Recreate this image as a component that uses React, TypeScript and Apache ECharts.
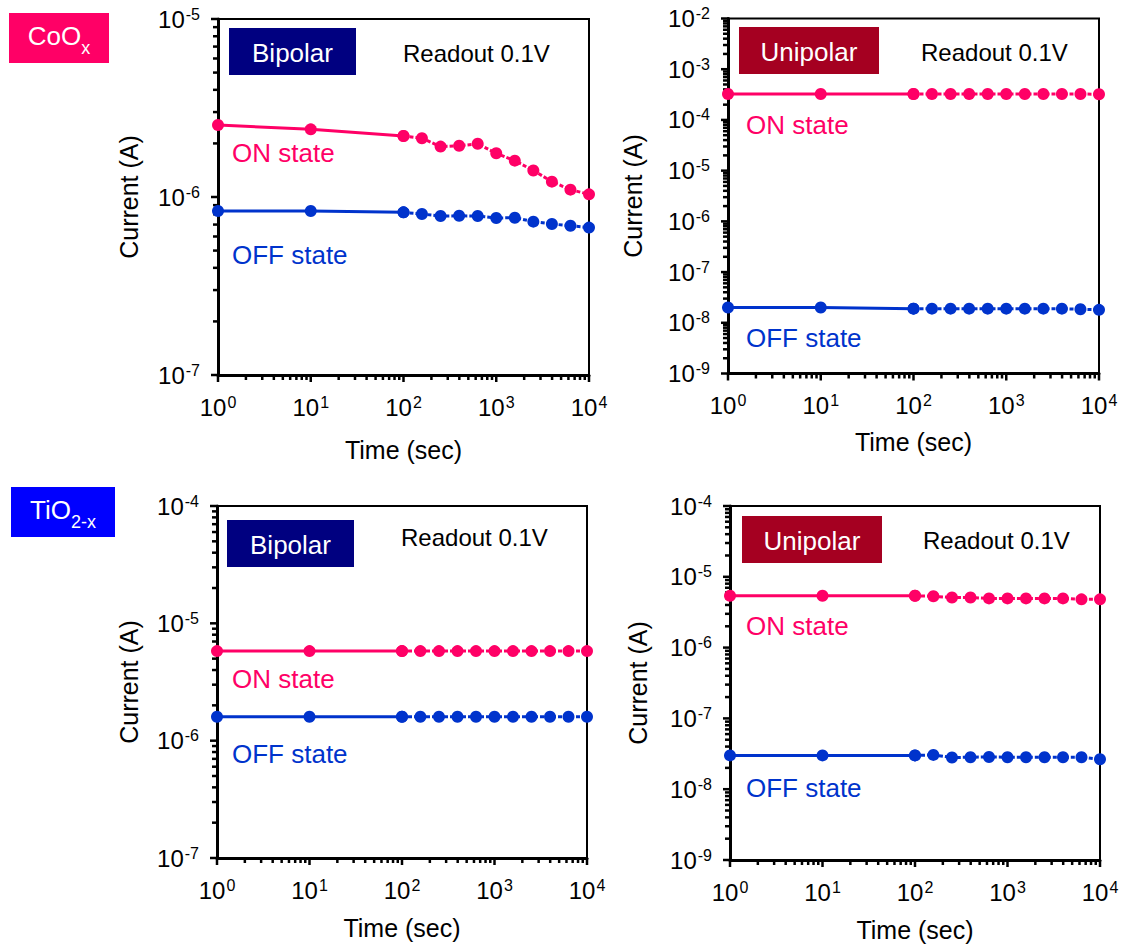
import React, { useEffect, useRef } from "react";
import * as echarts from "echarts";

// ---------------- data ----------------
const TIME = [1, 10, 100, 158, 251, 398, 631, 1000, 1585, 2512, 3981, 6310, 10000];

const COO_BI_ON = [2.54e-6, 2.4e-6, 2.2e-6, 2.14e-6, 1.92e-6, 1.94e-6, 1.99e-6, 1.76e-6, 1.6e-6, 1.41e-6, 1.22e-6, 1.1e-6, 1.035e-6];
const COO_BI_OFF = [8.34e-7, 8.34e-7, 8.2e-7, 8.02e-7, 7.82e-7, 7.84e-7, 7.82e-7, 7.62e-7, 7.65e-7, 7.27e-7, 7.05e-7, 6.9e-7, 6.73e-7];
const COO_UNI_ON = [3.25e-4, 3.25e-4, 3.25e-4, 3.25e-4, 3.25e-4, 3.25e-4, 3.25e-4, 3.25e-4, 3.25e-4, 3.25e-4, 3.25e-4, 3.25e-4, 3.2e-4];
const COO_UNI_OFF = [2.0e-8, 2.0e-8, 1.9e-8, 1.9e-8, 1.9e-8, 1.9e-8, 1.9e-8, 1.9e-8, 1.9e-8, 1.9e-8, 1.9e-8, 1.85e-8, 1.8e-8];
const TIO_BI_ON = [5.8e-6, 5.8e-6, 5.8e-6, 5.8e-6, 5.8e-6, 5.8e-6, 5.8e-6, 5.8e-6, 5.8e-6, 5.8e-6, 5.8e-6, 5.8e-6, 5.8e-6];
const TIO_BI_OFF = [1.6e-6, 1.6e-6, 1.6e-6, 1.6e-6, 1.6e-6, 1.6e-6, 1.6e-6, 1.6e-6, 1.6e-6, 1.6e-6, 1.6e-6, 1.6e-6, 1.6e-6];
const TIO_UNI_ON = [5.4e-6, 5.4e-6, 5.4e-6, 5.3e-6, 5.1e-6, 5.1e-6, 4.95e-6, 4.95e-6, 4.95e-6, 4.95e-6, 4.95e-6, 4.8e-6, 4.8e-6];
const TIO_UNI_OFF = [3.0e-8, 3.0e-8, 3.0e-8, 3.05e-8, 2.8e-8, 2.83e-8, 2.85e-8, 2.83e-8, 2.83e-8, 2.83e-8, 2.83e-8, 2.83e-8, 2.65e-8];

const X_EXP = [0, 4];
const Y_EXP_TL = [-7, -5];
const Y_EXP_TR = [-9, -2];
const Y_EXP_BL = [-7, -4];
const Y_EXP_BR = [-9, -4];
const MINOR_MULT = [2, 3, 4, 5, 6, 7, 8, 9];

const SOLID_END = 2; // index of t = 100

// ---------------- style ----------------
const FONT = "'Liberation Sans', Arial, Helvetica, sans-serif";
const PINK = "#FF0066";
const BLUE = "#0033CC";
const NAVY = "#000080";
const WINE = "#A50021";
const TICK_COLOR = "#000";

const panels = [
  {
    grid: { left: 218, top: 19, width: 371, height: 356 },
    yExp: Y_EXP_TL, on: COO_BI_ON, off: COO_BI_OFF,
    mode: "Bipolar", modeColor: NAVY, modeBox: [229, 28, 127, 47],
    readout: [403, 53], onText: [232, 153], offText: [232, 255], yNameGap: 77, xNameGap: 62,
  },
  {
    grid: { left: 728, top: 18.5, width: 371, height: 355 },
    yExp: Y_EXP_TR, on: COO_UNI_ON, off: COO_UNI_OFF,
    mode: "Unipolar", modeColor: WINE, modeBox: [739, 27, 140, 47],
    readout: [921, 52], onText: [746, 125], offText: [746, 338], yNameGap: 83, xNameGap: 56,
  },
  {
    grid: { left: 217, top: 506, width: 370, height: 352 },
    yExp: Y_EXP_BL, on: TIO_BI_ON, off: TIO_BI_OFF,
    mode: "Bipolar", modeColor: NAVY, modeBox: [227, 520, 127, 47],
    readout: [401, 537], onText: [232, 679], offText: [232, 754], yNameGap: 76, xNameGap: 57,
  },
  {
    grid: { left: 730, top: 506, width: 370, height: 354 },
    yExp: Y_EXP_BR, on: TIO_UNI_ON, off: TIO_UNI_OFF,
    mode: "Unipolar", modeColor: WINE, modeBox: [742, 516, 140, 47],
    readout: [923, 540], onText: [746, 626], offText: [746, 788], yNameGap: 80, xNameGap: 57,
  },
];

const rich = {
  b: { fontSize: 24, fontFamily: FONT, color: "#000", lineHeight: 26 },
  s: { fontSize: 16, fontFamily: FONT, color: "#000", lineHeight: 16, verticalAlign: "top", padding: [0, 0, 0, 1] },
};
const powLabel = (v: number) => `{b|10}{s|${Math.round(Math.log10(v))}}`;

// tick values (kind 0 = major, 1 = minor) in data space
function tickValues(e0: number, e1: number) {
  const out: [number, number][] = [];
  for (let e = e0; e <= e1; e++) {
    out.push([Math.pow(10, e), 0]);
    if (e < e1) MINOR_MULT.forEach((k) => out.push([k * Math.pow(10, e), 1]));
  }
  return out;
}

const MAJOR_LEN = 7;
const MINOR_LEN = 5;
const TICK_WIDTH = 2.5;

function buildOption() {
  const grid: any[] = [];
  const xAxis: any[] = [];
  const yAxis: any[] = [];
  const series: any[] = [];
  const graphic: any[] = [];

  panels.forEach((p, i) => {
    const xMin = Math.pow(10, X_EXP[0]);
    const xMax = Math.pow(10, X_EXP[1]);
    const yMin = Math.pow(10, p.yExp[0]);
    const yMax = Math.pow(10, p.yExp[1]);

    grid.push({ ...p.grid, show: true, borderColor: "#000", borderWidth: 2, backgroundColor: "transparent", containLabel: false, outerBoundsMode: "none" });

    xAxis.push({
      type: "log", logBase: 10, gridIndex: i, position: "bottom", min: xMin, max: xMax,
      axisLine: { show: true, onZero: false, lineStyle: { color: "#000", width: 3 } },
      axisTick: { show: false },
      axisLabel: { margin: 19, formatter: powLabel, rich },
      splitLine: { show: false },
      name: "Time (sec)", nameLocation: "middle", nameGap: p.xNameGap,
      nameTextStyle: { fontSize: 25, fontFamily: FONT, color: "#000" },
    });
    yAxis.push({
      type: "log", logBase: 10, gridIndex: i, position: "left", min: yMin, max: yMax,
      axisLine: { show: true, onZero: false, lineStyle: { color: "#000", width: 3 } },
      axisTick: { show: false },
      axisLabel: { margin: 18, formatter: powLabel, rich },
      splitLine: { show: false },
      name: "Current (A)", nameLocation: "middle", nameGap: p.yNameGap, nameRotate: 90,
      nameTextStyle: { fontSize: 25, fontFamily: FONT, color: "#000" },
    });

    // tick marks (major + log minor) placed through the axes' own scales
    const xTicks = tickValues(X_EXP[0], X_EXP[1]).map(([v, k]) => [v, yMin, k]);
    const yTicks = tickValues(p.yExp[0], p.yExp[1]).map(([v, k]) => [xMin, v, k]);
    series.push({
      type: "custom", coordinateSystem: "cartesian2d", xAxisIndex: i, yAxisIndex: i, clip: false, z: 5,
      data: xTicks,
      renderItem: (_: any, api: any) => {
        const pt = api.coord([api.value(0), api.value(1)]);
        const len = api.value(2) === 0 ? MAJOR_LEN : MINOR_LEN;
        return { type: "line", shape: { x1: pt[0], y1: pt[1], x2: pt[0], y2: pt[1] + len }, style: { stroke: TICK_COLOR, lineWidth: TICK_WIDTH } };
      },
    });
    series.push({
      type: "custom", coordinateSystem: "cartesian2d", xAxisIndex: i, yAxisIndex: i, clip: false, z: 5,
      data: yTicks,
      renderItem: (_: any, api: any) => {
        const pt = api.coord([api.value(0), api.value(1)]);
        const len = api.value(2) === 0 ? MAJOR_LEN : MINOR_LEN;
        return { type: "line", shape: { x1: pt[0], y1: pt[1], x2: pt[0] - len, y2: pt[1] }, style: { stroke: TICK_COLOR, lineWidth: TICK_WIDTH } };
      },
    });

    const mk = (vals: number[], color: string, from: number, to: number, dashed: boolean) => ({
      type: "line", xAxisIndex: i, yAxisIndex: i,
      data: TIME.slice(from, to + 1).map((t, k) => [t, vals[from + k]]),
      symbol: "circle", symbolSize: 12, showSymbol: true, clip: false,
      itemStyle: { color },
      lineStyle: { color, width: 3, type: dashed ? [4, 2] : "solid" },
      z: 6,
    });
    series.push(mk(p.on, PINK, 0, SOLID_END, false));
    series.push(mk(p.on, PINK, SOLID_END, TIME.length - 1, true));
    series.push(mk(p.off, BLUE, 0, SOLID_END, false));
    series.push(mk(p.off, BLUE, SOLID_END, TIME.length - 1, true));

    const [bx, by, bw, bh] = p.modeBox;
    graphic.push({ type: "rect", shape: { x: bx, y: by, width: bw, height: bh }, style: { fill: p.modeColor }, z: 10 });
    graphic.push({
      type: "text", x: bx + bw / 2, y: by + bh / 2 + 1, z: 11,
      style: { text: p.mode, fill: "#fff", fontSize: 26, fontFamily: FONT, align: "center", verticalAlign: "middle", textAlign: "center", textVerticalAlign: "middle" },
    });
    const txt = (pos: number[], text: string, color: string, size: number) => ({
      type: "text", x: pos[0], y: pos[1], z: 11,
      style: { text, fill: color, fontSize: size, fontFamily: FONT, align: "left", verticalAlign: "middle", textAlign: "left", textVerticalAlign: "middle" },
    });
    graphic.push(txt(p.readout, "Readout 0.1V", "#000", 24));
    graphic.push(txt(p.onText, "ON state", PINK, 26));
    graphic.push(txt(p.offText, "OFF state", BLUE, 26));
  });

  // material tags
  const tagRich = {
    a: { fontSize: 26, fontFamily: FONT, fill: "#fff", color: "#fff", lineHeight: 30 },
    b: { fontSize: 18, fontFamily: FONT, fill: "#fff", color: "#fff", lineHeight: 18, verticalAlign: "bottom", padding: [0, 0, -6, 0] },
  };
  graphic.push({ type: "rect", shape: { x: 9, y: 13, width: 100, height: 50 }, style: { fill: PINK }, z: 10 });
  graphic.push({
    type: "text", x: 59, y: 36, z: 11,
    style: { text: "{a|CoO}{b|x}", fill: "#fff", align: "center", verticalAlign: "middle", textAlign: "center", textVerticalAlign: "middle", rich: tagRich },
  });
  graphic.push({ type: "rect", shape: { x: 11, y: 487, width: 104, height: 50 }, style: { fill: "#0000FF" }, z: 10 });
  graphic.push({
    type: "text", x: 63, y: 510, z: 11,
    style: { text: "{a|TiO}{b|2-x}", fill: "#fff", align: "center", verticalAlign: "middle", textAlign: "center", textVerticalAlign: "middle", rich: tagRich },
  });

  return {
    animation: false,
    backgroundColor: "#fff",
    textStyle: { fontFamily: FONT },
    grid, xAxis, yAxis, series, graphic,
  };
}

export default function App() {
  const ref = useRef<HTMLDivElement>(null);
  useEffect(() => {
    if (!ref.current) return;
    const chart = echarts.init(ref.current, null, { renderer: "svg" });
    chart.setOption(buildOption() as any);
    return () => chart.dispose();
  }, []);
  return (
    <div
      ref={ref}
      style={{ position: "absolute", left: 0, top: 0, width: 1124, height: 948, background: "#fff" }}
    />
  );
}
